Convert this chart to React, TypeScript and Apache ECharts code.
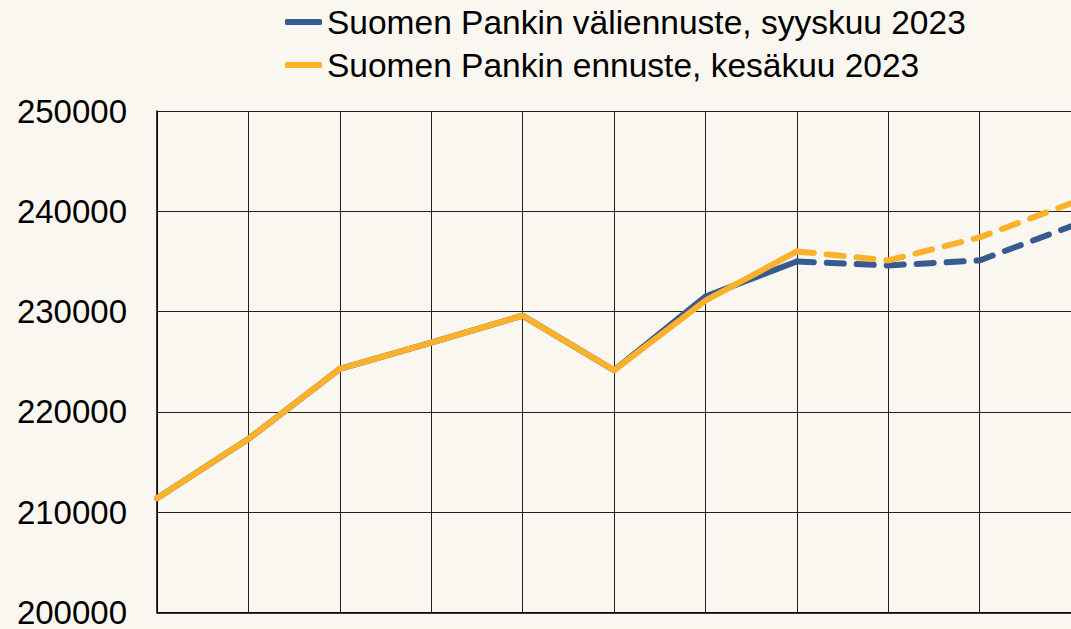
import React, { useEffect, useRef } from "react";
import * as echarts from "echarts";

const categories = ["2015", "2016", "2017", "2018", "2019", "2020", "2021", "2022", "2023", "2024", "2025"];
const seriesNames = ["Suomen Pankin väliennuste, syyskuu 2023", "Suomen Pankin ennuste, kesäkuu 2023"];
const septValues = [211400, 217300, 224300, 226900, 229600, 224150, 231500, 235000, 234600, 235100, 238500];
const juneValues = [211400, 217300, 224300, 226900, 229600, 224150, 231100, 236000, 235100, 237400, 240800];
const forecastStart = 7;
const yTicks = { min: 200000, max: 250000, interval: 10000 };

const BLUE = "#385b8f";
const ORANGE = "#fcb12b";
const BG = "#faf6f0";

function solidPart(v: number[]) {
  return v.map((x, i) => (i <= forecastStart ? x : null));
}
function dashPart(v: number[]) {
  return v.map((x, i) => (i >= forecastStart ? x : null));
}

export default function App() {
  const ref = useRef<HTMLDivElement>(null);
  useEffect(() => {
    document.body.style.margin = "0";
    document.body.style.background = BG;
    const chart = echarts.init(ref.current!, null, { renderer: "svg" });
    const font = "'Liberation Sans', Arial, sans-serif";
    const mk = (name: string, data: (number | null)[], color: string, dashed: boolean, z: number) => ({
      name,
      type: "line",
      data,
      showSymbol: false,
      symbol: "none",
      z,
      itemStyle: { color },
      lineStyle: {
        color,
        width: 6,
        type: dashed ? [17, 13] : "solid",
        cap: "round",
        join: "round",
      },
      connectNulls: false,
    });
    chart.setOption({
      animation: false,
      backgroundColor: BG,
      textStyle: { fontFamily: font },
      legend: {
        orient: "vertical",
        left: 285,
        top: 5,
        padding: 0,
        itemWidth: 37,
        itemHeight: 6,
        itemGap: 9,
        itemTextGap: 4,
        icon: "roundRect",
        textStyle: { fontSize: 33.5, color: "#000", fontFamily: font, lineHeight: 33 },
        data: [
          { name: seriesNames[0], itemStyle: { color: BLUE } },
          { name: seriesNames[1], itemStyle: { color: ORANGE } },
        ],
      },
      grid: { left: 157, right: 0, top: 111, bottom: 14.5, containLabel: false },
      xAxis: {
        type: "category",
        data: categories,
        boundaryGap: false,
        axisLine: { show: true, lineStyle: { color: "#000", width: 1.5 } },
        axisTick: { show: false },
        axisLabel: { show: false },
        splitLine: { show: true, lineStyle: { color: "#222", width: 1 } },
      },
      yAxis: {
        type: "value",
        min: yTicks.min,
        max: yTicks.max,
        interval: yTicks.interval,
        axisLine: { show: true, lineStyle: { color: "#000", width: 1.5 } },
        axisTick: { show: false },
        axisLabel: {
          color: "#000",
          fontSize: 33,
          margin: 30,
          fontFamily: font,
          formatter: (v: number) => String(v),
        },
        splitLine: { show: true, lineStyle: { color: "#222", width: 1 } },
      },
      series: [
        mk(seriesNames[0], solidPart(septValues), BLUE, false, 2),
        mk(seriesNames[0], dashPart(septValues), BLUE, true, 2),
        mk(seriesNames[1], solidPart(juneValues), ORANGE, false, 3),
        mk(seriesNames[1], dashPart(juneValues), ORANGE, true, 3),
      ],
    });
    return () => chart.dispose();
  }, []);
  return (
    <div
      ref={ref}
      style={{ position: "fixed", left: 0, top: 0, width: 1071, height: 629, background: BG }}
    />
  );
}
